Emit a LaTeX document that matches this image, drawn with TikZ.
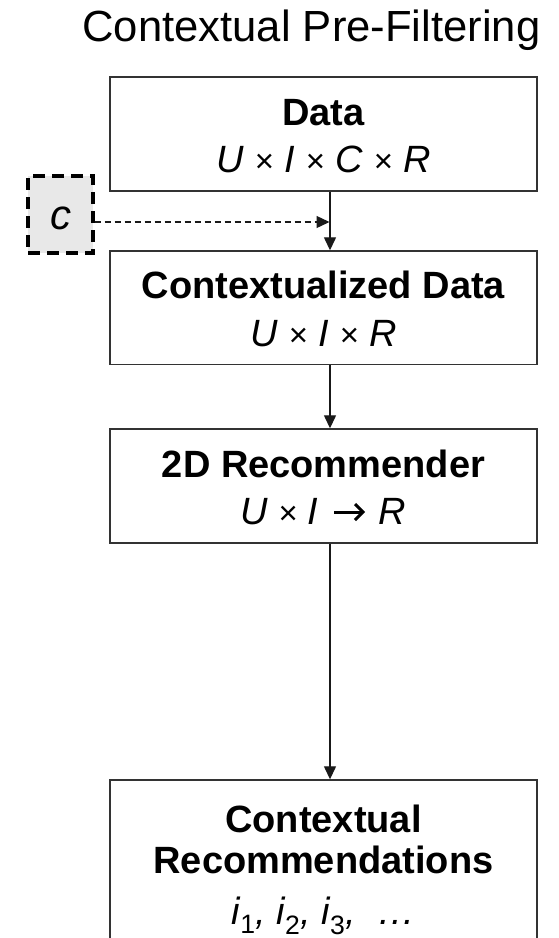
\documentclass[tikz,border=0pt]{standalone}
\usepackage{fontspec}
\setmainfont{Liberation Sans}
\usetikzlibrary{arrows.meta}
% a slightly smaller multiplication sign for the formulas
\newcommand\crossop{{\fontsize{33}{33}\selectfont ×}}
\newcommand\subup[1]{\textsubscript{\upshape #1}}
\begin{document}
\begin{tikzpicture}[x=1pt,y=-1pt,
  stage/.style={draw=black!80, line width=1.4pt, fill=white, minimum width=427pt, inner sep=0pt},
  heading/.style={anchor=base, font=\fontsize{38}{44}\selectfont\bfseries},
  formula/.style={anchor=base, font=\fontsize{38}{44}\selectfont\itshape},
  flow/.style={draw=black!90, line width=1.3pt, -{Triangle[length=13pt,width=12pt]}},
  ctxbox/.style={draw=black, fill=black!9, line width=3.2pt, dash pattern=on 12pt off 7pt,
    minimum width=65pt, minimum height=77pt, inner sep=0pt},
  maparrow/.style={line width=3pt, line cap=butt, line join=miter},
]
\useasboundingbox (0,0) rectangle (558,938);
\clip (0,0) rectangle (558,938);

% title
\node[anchor=base, font=\fontsize{43.6}{50}\selectfont] (title) at (311.5,41) {Contextual Pre-Filtering};

% pipeline stages
\node[stage, minimum height=114pt] (data) at (323.5,134) {};
\node[heading] (datat) at (323.5,125) {Data};
\node[formula] (dataf) at (323.5,172) {U \crossop{} I \crossop{} C \crossop{} R};

\node[stage, minimum height=113.5pt] (ctxdata) at (323.5,307.75) {};
\node[heading] (ctxdatat) at (323.5,298) {Contextualized Data};
\node[formula] (ctxdataf) at (323.5,346) {U \crossop{} I \crossop{} R};

\node[stage, minimum height=114pt] (rec) at (323.5,486) {};
\node[heading] (rect) at (323.5,477) {2D Recommender};
\node[formula, anchor=base east] (recl) at (322,524) {U \crossop{} I};
\node[formula, anchor=base west] (recr) at (375,524) {R};
\draw[maparrow] (334,512) -- (363,512);
\draw[maparrow] (355,504) -- (363,512) -- (355,520);

\node[stage, minimum height=220pt] (out) at (323.5,890) {};
\node[heading] (outt1) at (323.5,832) {Contextual};
\node[heading] (outt2) at (323.5,873) {Recommendations};
\node[formula] (outf) at (323.5,924) {i\subup{1}, i\subup{2}, i\subup{3}, \ …};

% context value
\node[ctxbox] (cbox) at (60.5,214.5) {};
\node[anchor=base, font=\fontsize{42}{42}\selectfont\itshape] (clab) at (61,229) {c};

% connectors
\coordinate (spine) at (330,0);
\coordinate (join) at (329.5,222);
\draw[flow, dash pattern=on 6pt off 4pt] (cbox.east |- join) -- (join);
\draw[flow] (data.south -| spine) -- (ctxdata.north -| spine);
\draw[flow] (ctxdata.south -| spine) -- (rec.north -| spine);
\draw[flow] (rec.south -| spine) -- (out.north -| spine);
\end{tikzpicture}
\end{document}
